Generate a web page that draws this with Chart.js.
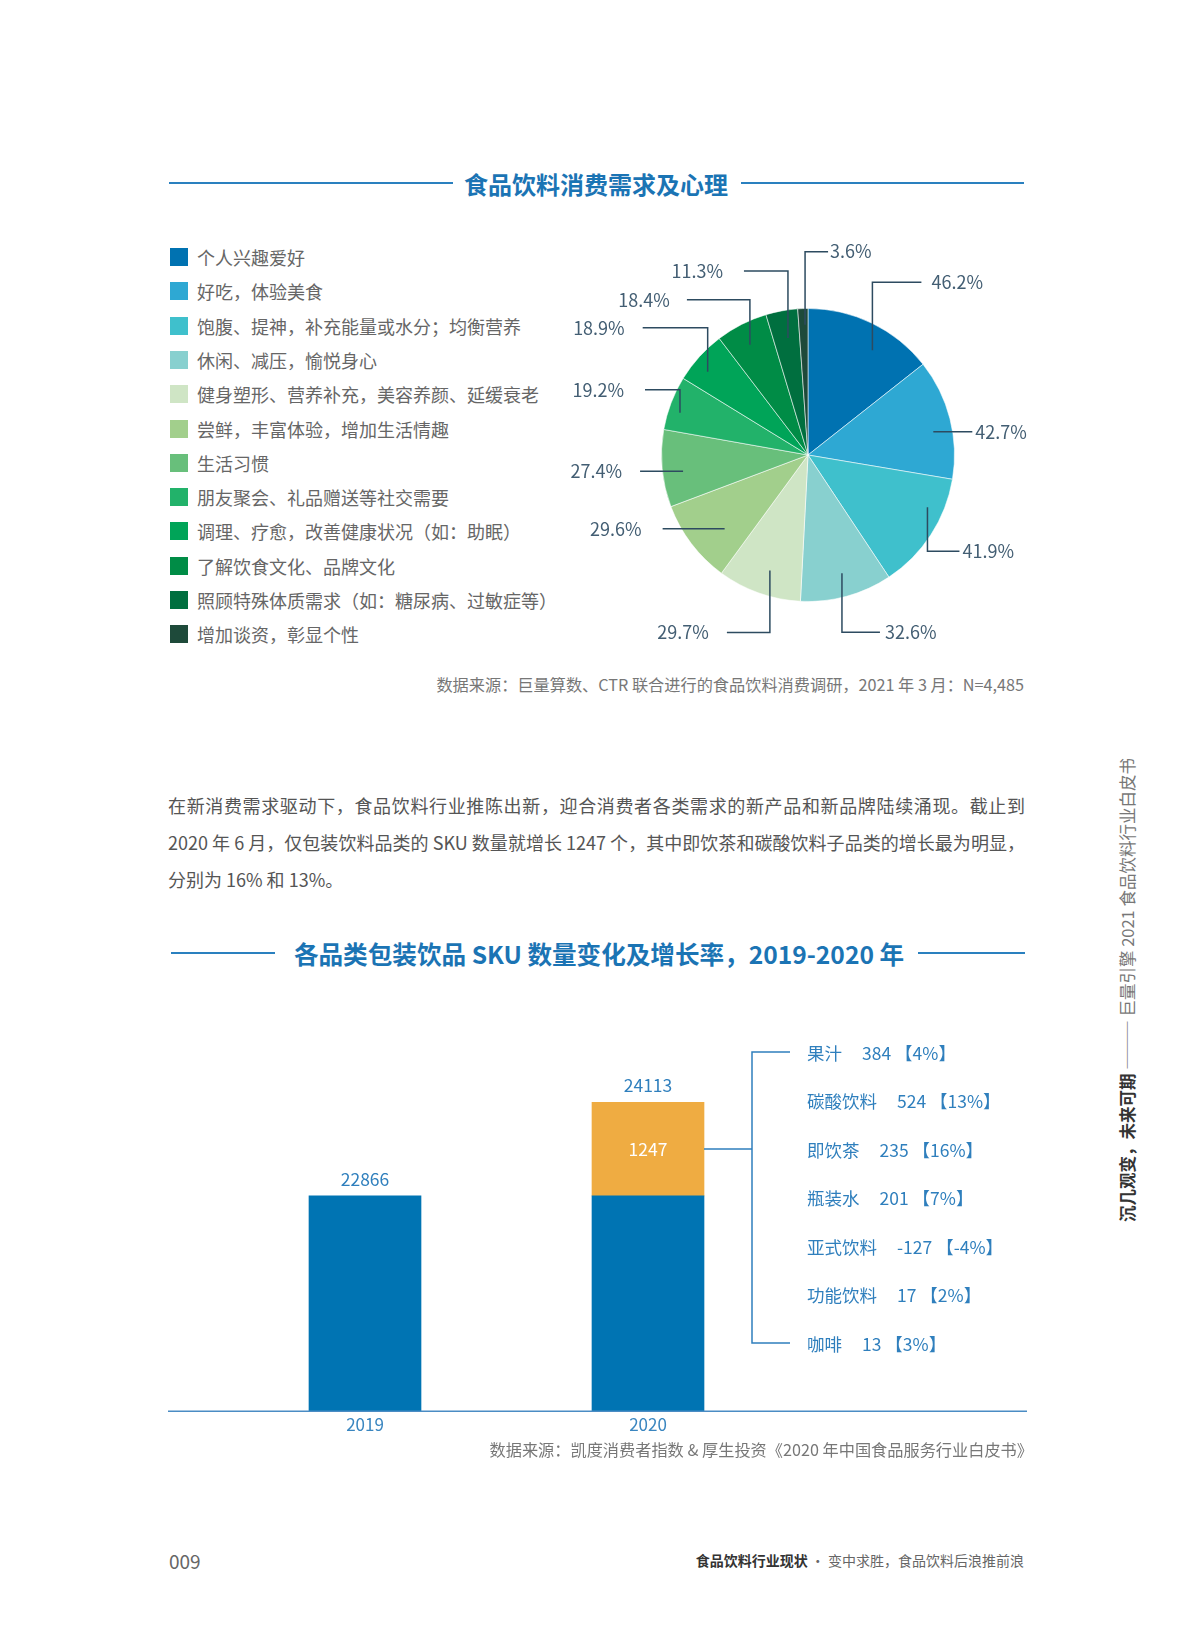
<!DOCTYPE html>
<html lang="zh">
<head>
<meta charset="utf-8">
<script src="https://cdn.jsdelivr.net/npm/chart.js@4.4.1/dist/chart.umd.min.js"></script>
<style>
    html, body { margin: 0; padding: 0; }
    body {
        width: 1200px; height: 1630px; position: relative; overflow: hidden;
        background: #fff;
        font-family: "Noto Sans CJK SC", "Noto Sans", sans-serif;
    }
    .rule { position: absolute; height: 2px; background: #2a80bf; }
    .title {
        position: absolute; transform: translate(-50%, -50%); white-space: nowrap;
        font-size: 24px; font-weight: bold; color: #1b74b4;
    }
    .legend-row { position: absolute; left: 170px; height: 20px; display: flex; align-items: center; }
    .legend-row i { display: block; width: 18px; height: 18px; margin-right: 9px; }
    .legend-row span { font-size: 18px; color: #666; white-space: nowrap; }
    .source { position: absolute; right: 176px; transform: translateY(-50%); font-size: 16.2px; color: #777; white-space: nowrap; }
    .para { position: absolute; left: 168px; width: 857px; font-size: 18px; color: #555; line-height: 37px; }
    .para div { text-align: justify; text-align-last: justify; white-space: nowrap; }
    .para div.last { text-align-last: left; }
    .side {
        position: absolute; left: 1127px; top: 990px; white-space: nowrap;
        transform: translate(-50%, -50%) rotate(-90deg); font-size: 16.5px; color: #777;
    }
    .side b { color: #333; }
    .footer { position: absolute; top: 1560px; transform: translateY(-50%); white-space: nowrap; }
</style>
</head>
<body>

<div class="rule" style="left:169px; width:284px; top:182px;"></div>
<div class="rule" style="left:741px; width:283px; top:182px;"></div>
<div class="title" style="left:596px; top:183px;">食品饮料消费需求及心理</div>

<div id="legend"></div>
<div style="position:absolute; left:540px; top:225px; width:500px; height:430px;">
    <canvas id="need-chart"></canvas>
</div>

<div class="source" style="top:684px;">数据来源：巨量算数、CTR 联合进行的食品饮料消费调研，2021 年 3 月：N=4,485</div>

<div class="para" style="top:787px;">
    <div>在新消费需求驱动下，食品饮料行业推陈出新，迎合消费者各类需求的新产品和新品牌陆续涌现。截止到</div>
    <div>2020 年 6 月，仅包装饮料品类的 SKU 数量就增长 1247 个，其中即饮茶和碳酸饮料子品类的增长最为明显，</div>
    <div class="last">分别为 16% 和 13%。</div>
</div>

<div class="rule" style="left:171px; width:104px; top:952px;"></div>
<div class="rule" style="left:918px; width:107px; top:952px;"></div>
<div class="title" style="left:599px; top:953px; font-size:24.6px;">各品类包装饮品 SKU 数量变化及增长率，2019-2020 年</div>

<div style="position:absolute; left:165px; top:990px; width:862px; height:461px;">
    <canvas id="sku-chart"></canvas>
</div>

<div class="source" style="top:1449px; right:167px;">数据来源：凯度消费者指数 &amp; 厚生投资《2020 年中国食品服务行业白皮书》</div>

<div class="side"><b>沉几观变，未来可期</b> ——— 巨量引擎 2021 食品饮料行业白皮书</div>

<div class="footer" style="left:169px; font-size:19px; color:#666;">009</div>
<div class="footer" style="right:176px; font-size:14px; color:#666;"><b style="color:#333;">食品饮料行业现状</b> · 变中求胜，食品饮料后浪推前浪</div>

<script>
// ===== DATA =====
const needLabels = [
    '个人兴趣爱好',
    '好吃，体验美食',
    '饱腹、提神，补充能量或水分；均衡营养',
    '休闲、减压，愉悦身心',
    '健身塑形、营养补充，美容养颜、延缓衰老',
    '尝鲜，丰富体验，增加生活情趣',
    '生活习惯',
    '朋友聚会、礼品赠送等社交需要',
    '调理、疗愈，改善健康状况（如：助眠）',
    '了解饮食文化、品牌文化',
    '照顾特殊体质需求（如：糖尿病、过敏症等）',
    '增加谈资，彰显个性'
];
const needValues = [46.2, 42.7, 41.9, 32.6, 29.7, 29.6, 27.4, 19.2, 18.9, 18.4, 11.3, 3.6];
const needColors = ['#0072b1', '#2ea8d3', '#3fc0cc', '#88d0cf', '#cfe5c5', '#a2cf8c',
    '#68bf7b', '#22b26a', '#00a458', '#008c46', '#006f3f', '#1e4a3a'];

const years = ['2019', '2020'];
const skuBase = [22866, 22866];
const skuAdded = [null, 1247];
const skuTotal = [22866, 24113];
const subNames = ['果汁', '碳酸饮料', '即饮茶', '瓶装水', '亚式饮料', '功能饮料', '咖啡'];
const subAdded = [384, 524, 235, 201, -127, 17, 13];
const subRate = [4, 13, 16, 7, -4, 2, 3];

// leader lines: point on the slice (share of arc, share of radius), then vertical and horizontal run
const leadAt = [0.61, 0.58, 0.30, 0.48, 0.46, 0.37, 0.43, 0.38, 0.385, 0.46, 0.55, 0.68];
const leadR = [0.84, 0.87, 0.89, 0.84, 0.83, 0.76, 0.86, 0.92, 0.89, 0.85, 0.81, 0.89];
const leadDy = [-68, 0, 44, 59, 62, 0, 0, -23, -44, -45, -67, -73];
const leadDx = [49, 39, 32, 38, -43, -62, -43, -35, -65, -63, -44, 23];
const leadGap = [10, 3, 3, 5, 18, 21, 18, 21, 18, 17, 21, 2];

const FONT = '"Noto Sans CJK SC", "Noto Sans", sans-serif';

// ===== LEGEND =====
const legendDiv = document.getElementById('legend');
needLabels.forEach((label, i) => {
    const row = document.createElement('div');
    row.className = 'legend-row';
    row.style.top = (247 + i * 34.3) + 'px';
    row.innerHTML = `<i style="background:${needColors[i]}"></i><span>${label}</span>`;
    legendDiv.appendChild(row);
});

// ===== PIE =====
const leaderPlugin = {
    id: 'leaders',
    afterDatasetsDraw(chart) {
        const ctx = chart.ctx;
        const arcs = chart.getDatasetMeta(0).data;
        ctx.save();
        ctx.strokeStyle = '#2d4b60';
        ctx.lineWidth = 1.5;
        ctx.fillStyle = '#435e73';
        ctx.font = '18px ' + FONT;
        ctx.textBaseline = 'middle';
        arcs.forEach((arc, i) => {
            const a = arc.startAngle + leadAt[i] * (arc.endAngle - arc.startAngle);
            const x0 = arc.x + Math.cos(a) * arc.outerRadius * leadR[i];
            const y0 = arc.y + Math.sin(a) * arc.outerRadius * leadR[i];
            const y1 = y0 + leadDy[i];
            const x1 = x0 + leadDx[i];
            ctx.beginPath();
            ctx.moveTo(x0, y0);
            ctx.lineTo(x0, y1);
            ctx.lineTo(x1, y1);
            ctx.stroke();
            const right = leadDx[i] > 0;
            ctx.textAlign = right ? 'left' : 'right';
            ctx.fillText(needValues[i] + '%', x1 + (right ? leadGap[i] : -leadGap[i]), y1);
        });
        ctx.restore();
    }
};

new Chart(document.getElementById('need-chart'), {
    type: 'pie',
    data: {
        labels: needLabels,
        datasets: [{
            data: needValues,
            backgroundColor: needColors,
            borderColor: 'rgba(255,255,255,0.55)',
            borderWidth: 1,
            radius: 146.5
        }]
    },
    options: {
        responsive: true,
        maintainAspectRatio: false,
        animation: false,
        events: [],
        layout: { padding: { left: 121.5, right: 85.5, top: 83.5, bottom: 53.5 } },
        plugins: { legend: { display: false }, tooltip: { enabled: false } }
    },
    plugins: [leaderPlugin]
});

// ===== BARS =====
const yMin = 20000;
const yMax = 25500;

const skuPlugin = {
    id: 'skuNotes',
    afterDatasetsDraw(chart) {
        const ctx = chart.ctx;
        const area = chart.chartArea;
        const yScale = chart.scales.y;
        const baseBars = chart.getDatasetMeta(0).data;
        const addBar = chart.getDatasetMeta(1).data[1];
        ctx.save();

        // baseline across the page
        ctx.strokeStyle = '#4a8cc4';
        ctx.lineWidth = 1.5;
        ctx.beginPath();
        ctx.moveTo(3, area.bottom);
        ctx.lineTo(chart.width, area.bottom);
        ctx.stroke();

        // totals above bars
        ctx.font = '17.5px ' + FONT;
        ctx.textAlign = 'center';
        ctx.textBaseline = 'bottom';
        ctx.fillStyle = '#2f7fbd';
        baseBars.forEach((bar, i) => {
            ctx.fillText(String(skuTotal[i]), bar.x, yScale.getPixelForValue(skuTotal[i]) - 8);
        });

        // increase inside the orange segment
        const midY = (addBar.y + addBar.base) / 2;
        ctx.fillStyle = '#fff';
        ctx.textBaseline = 'middle';
        ctx.fillText(String(skuAdded[1]), addBar.x, midY);

        // bracket to the sub-category list
        const barRight = addBar.x + addBar.width / 2;
        const bx = barRight + 48;
        const rowTop = area.top + 54;
        const rowGap = 48.5;
        const rowBottom = rowTop + rowGap * (subNames.length - 1);
        ctx.strokeStyle = '#2f7fbd';
        ctx.lineWidth = 1.5;
        ctx.beginPath();
        ctx.moveTo(barRight, midY);
        ctx.lineTo(bx, midY);
        ctx.moveTo(bx + 38, rowTop);
        ctx.lineTo(bx, rowTop);
        ctx.lineTo(bx, rowBottom);
        ctx.lineTo(bx + 38, rowBottom);
        ctx.stroke();

        ctx.font = '17.5px ' + FONT;
        ctx.textAlign = 'left';
        ctx.fillStyle = '#2f7fbd';
        subNames.forEach((name, i) => {
            const ty = rowTop + i * rowGap + 1;
            const tx = bx + 55;
            ctx.fillText(name, tx, ty);
            const w = ctx.measureText(name).width;
            ctx.fillText(`${subAdded[i]} 【${subRate[i]}%】`, tx + w + 20, ty);
        });
        ctx.restore();
    }
};

new Chart(document.getElementById('sku-chart'), {
    type: 'bar',
    data: {
        labels: years,
        datasets: [
            { data: skuBase, backgroundColor: '#0074b3', base: yMin, barThickness: 112 },
            { data: skuAdded, backgroundColor: '#efac42', barThickness: 112 }
        ]
    },
    options: {
        responsive: true,
        maintainAspectRatio: false,
        animation: false,
        events: [],
        layout: { padding: { left: 58.5, right: 237.5, top: 8, bottom: 13.3 } },
        plugins: { legend: { display: false }, tooltip: { enabled: false } },
        scales: {
            x: {
                stacked: true,
                grid: { display: false, drawTicks: false },
                border: { display: false },
                ticks: { color: '#3a86c0', font: { size: 17, family: FONT }, padding: 3 }
            },
            y: {
                stacked: true,
                display: false,
                min: yMin,
                max: yMax
            }
        }
    },
    plugins: [skuPlugin]
});
</script>
</body>
</html>
